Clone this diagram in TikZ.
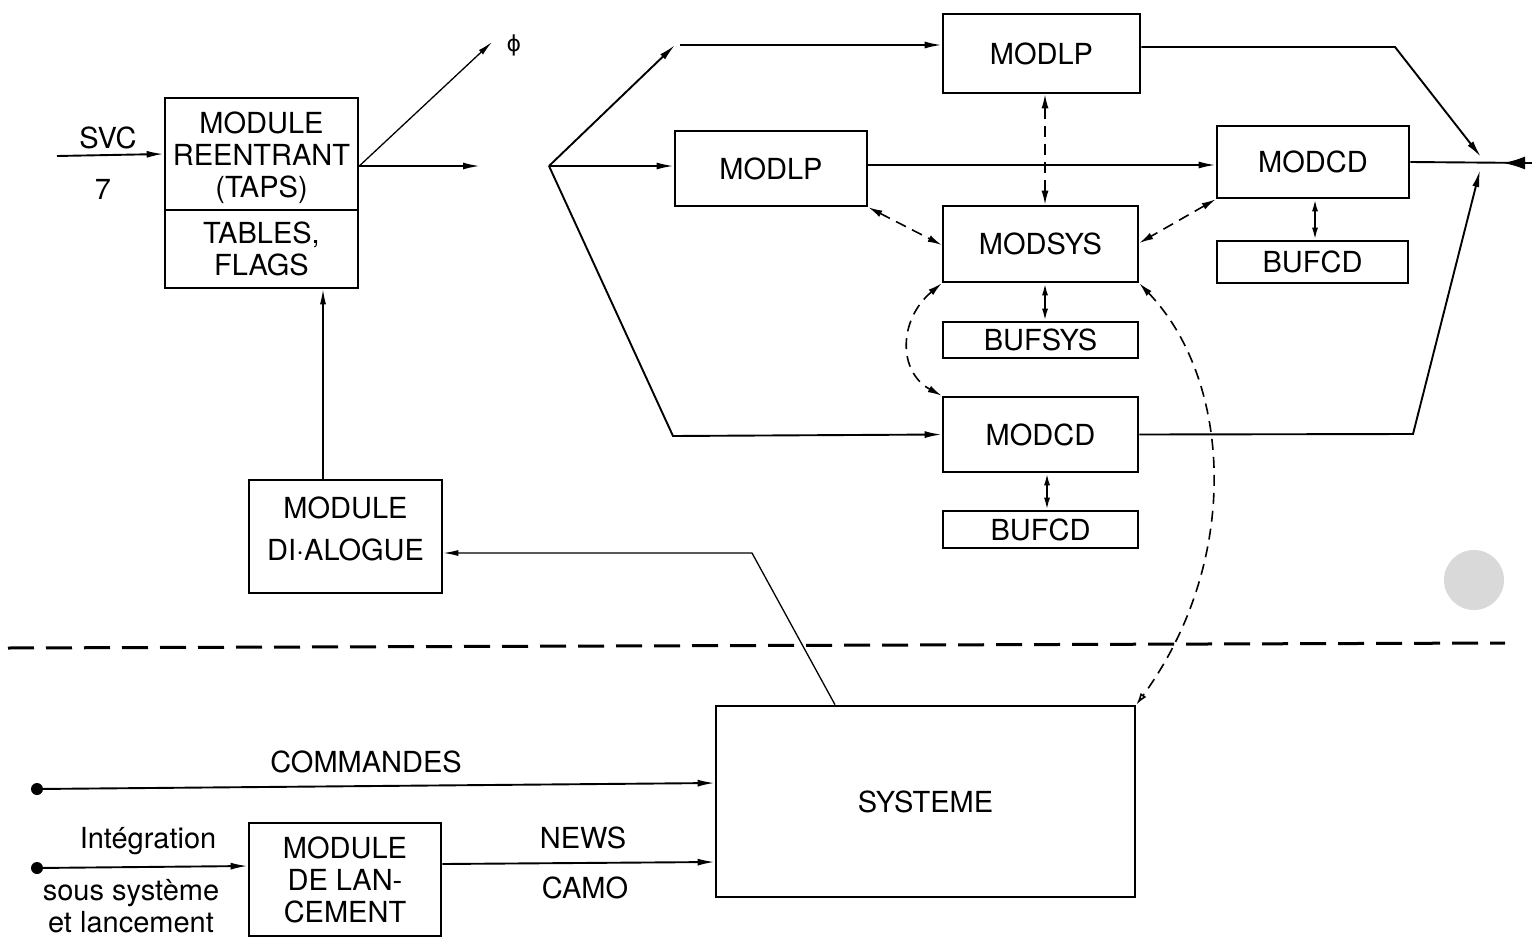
\documentclass[tikz,border=0pt]{standalone}
\usepackage{fontspec}
\setmainfont{TeX Gyre Heros}
\newfontfamily\djv{DejaVu Sans}
\usetikzlibrary{arrows.meta}
\tikzset{
  box/.style={draw, line width=2.6pt, inner sep=0pt, align=center, font=\fontsize{29}{32}\selectfont},
  lbl/.style={inner sep=0pt, font=\fontsize{29}{32}\selectfont},
  con/.style={line width=1.9pt, -{Latex[length=17pt,width=7pt]}},
  fine/.style={line width=1.3pt, -{Latex[length=15pt,width=6pt]}},
  plain/.style={line width=1.9pt},
  dsh/.style={line width=1.6pt, dash pattern=on 11pt off 7pt, {Latex[length=14pt,width=7pt]}-{Latex[length=14pt,width=7pt]}},
  dbl/.style={line width=1.9pt, {Latex[length=12pt,width=6pt]}-{Latex[length=12pt,width=6pt]}},
  dotpt/.style={circle, fill, inner sep=0pt, minimum size=12pt}
}
\begin{document}
\begin{tikzpicture}[x=1pt,y=-1pt]
\useasboundingbox (0,0) rectangle (1532,937);

% --- boxes, upper part
\node[box, minimum width=193pt, minimum height=112pt] (reent) at (261.5,154) {\raisebox{-5pt}[\height][\depth]{\begin{tabular}{@{}c@{}}MODULE\\REENTRANT\\(TAPS)\end{tabular}}};
\node[box, minimum width=193pt, minimum height=78pt] (tables) at (261.5,249) {TABLES,\\FLAGS};
\node[box, minimum width=193pt, minimum height=113pt, font=\fontsize{29}{42}\selectfont] (dial) at (345.5,536.5) {\raisebox{5pt}[\height][\depth]{\begin{tabular}{@{}c@{}}MODULE\\DI·ALOGUE\end{tabular}}};

\node[box, minimum width=197pt, minimum height=79pt] (modlpA) at (1041.5,53.5) {MODLP};
\node[box, minimum width=192pt, minimum height=75pt] (modlpB) at (771,168.5) {MODLP};
\node[box, minimum width=192pt, minimum height=72pt] (modcdA) at (1313,162) {MODCD};
\node[box, minimum width=191pt, minimum height=42pt] (bufcdA) at (1312.5,262) {BUFCD};
\node[box, minimum width=195pt, minimum height=76pt] (modsys) at (1040.5,244) {MODSYS};
\node[box, minimum width=195pt, minimum height=36pt] (bufsys) at (1040.5,340) {BUFSYS};
\node[box, minimum width=195pt, minimum height=75pt] (modcdB) at (1040.5,434.5) {MODCD};
\node[box, minimum width=195pt, minimum height=37pt] (bufcdB) at (1040.5,529.5) {BUFCD};

% --- boxes, lower part
\node[box, minimum width=419pt, minimum height=191pt] (sys) at (925.5,801.5) {SYSTEME};
\node[box, minimum width=192pt, minimum height=113pt] (lanc) at (345,879.5) {MODULE\\DE LAN-\\CEMENT};

% --- labels
\node[lbl] (svc) at (108,138) {SVC};
\node[lbl] (seven) at (103,189) {7};
\node[inner sep=0pt, font=\djv\fontsize{22}{24}\selectfont] (phi) at (514,45) {ϕ};
\node[lbl] (comm) at (366,762) {COMMANDES};
\node[lbl] (integ) at (148,841) {Intégration};
\node[lbl] (sous) at (131,893) {sous système};
\node[lbl] (etl) at (131,922) {et lancement};
\node[lbl] (news) at (583,838) {NEWS};
\node[lbl] (camo) at (585,888) {CAMO};

% --- coordinates
\coordinate (svcin) at (57,156);
\coordinate (outR) at (480,166);
\coordinate (phiend) at (492,42);
\coordinate (split) at (549,166);
\coordinate (k2) at (675,45);
\coordinate (k2b) at (680,45);
\coordinate (k3) at (673,436);
\coordinate (k4) at (1395,47);
\coordinate (mA) at (1481,157);
\coordinate (k5) at (1413,434);
\coordinate (mB) at (1480,170);
\coordinate (rend) at (1532,163);
\coordinate (rtip) at (1503,163);
\coordinate (k1) at (752,553);
\node[dotpt] (d1) at (37,789) {};
\node[dotpt] (d2) at (37,868) {};

% --- upper left connectors
\draw[con] (svcin) -- (reent.west);
\draw[con] ([yshift=-12pt]reent.east) -- (outR);
\draw[fine] ([yshift=-12pt]reent.east) -- (phiend);
\draw[fine] ([xshift=-22.5pt]dial.north) -- ([xshift=61.5pt]tables.south);
\draw[fine] ([xshift=-90.5pt]sys.north) -- (k1) -- ([yshift=-16.5pt]dial.east);

% --- distribution from split
\draw[con] (split) -- (k2);
\draw[con] (k2b) -- ([yshift=8.5pt]modlpA.west);
\draw[con] (split) -- ([yshift=2.5pt]modlpB.west);
\draw[con] (split) -- (k3) -- (modcdB.west);
\draw[con] ([yshift=3.5pt]modlpB.east) -- ([yshift=-3pt]modcdA.west);

% --- convergence on the right
\draw[con] ([yshift=6.5pt]modlpA.east) -- (k4) -- (mA);
\draw[con] (modcdB.east) -- (k5) -- (mB);
\draw[plain] (modcdA.east) -- (rend);
\draw[con, -{Latex[length=22pt,width=13pt]}] (rend) -- (rtip);

% --- dashed links around MODSYS
\draw[dsh] ([xshift=3.5pt]modlpA.south) -- ([xshift=4.5pt]modsys.north);
\draw[dsh] (modlpB.south east) -- ([yshift=-1pt]modsys.west);
\draw[dsh] (modcdA.south west) -- ([yshift=1pt]modsys.east);
\draw[dsh] (modsys.south west) .. controls (898,320) and (898,372) .. (modcdB.north west);
\draw[line width=1.6pt, dash pattern=on 11pt off 7pt, {Latex[length=14pt,width=7pt]}-{Latex[open,length=12pt,width=7pt]}]
  (modsys.south east) .. controls (1232,380) and (1242,560) .. (sys.north east);

% --- buffers
\draw[dbl] ([xshift=4.5pt]modsys.south) -- ([xshift=4.5pt]bufsys.north);
\draw[dbl] ([xshift=2pt]modcdA.south) -- ([xshift=2.5pt]bufcdA.north);
\draw[dbl] ([xshift=6.5pt]modcdB.south) -- ([xshift=6.5pt]bufcdB.north);

% --- divider
\coordinate (divL) at (8,648);
\coordinate (divR) at (1505,643);
\draw[line width=3pt, dash pattern=on 26pt off 12pt] (divL) -- (divR);

% --- grey disc
\fill[gray!30] (1474,580) circle (30pt);

% --- lower connectors
\draw[con] (d1) -- ([yshift=18.5pt]sys.west);
\draw[con] (d2) -- ([yshift=13.5pt]lanc.west);
\draw[con] ([yshift=15.5pt]lanc.east) -- ([yshift=-60.5pt]sys.west);
\end{tikzpicture}
\end{document}
